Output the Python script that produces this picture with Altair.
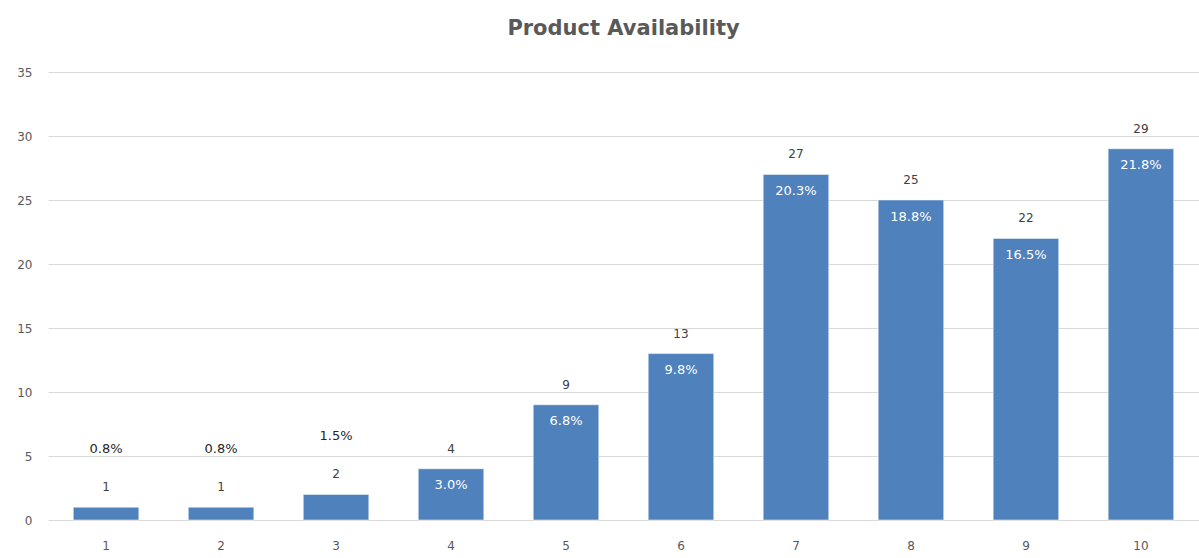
import altair as alt
import pandas as pd

ratings = ["1", "2", "3", "4", "5", "6", "7", "8", "9", "10"]
counts = [1, 1, 2, 4, 9, 13, 27, 25, 22, 29]
shares = ["0.8%", "0.8%", "1.5%", "3.0%", "6.8%", "9.8%", "20.3%", "18.8%", "16.5%", "21.8%"]

df = pd.DataFrame({"rating": ratings, "count": counts, "share": shares})

FONT = "DejaVu Sans"
TEXT_GREY = "#595959"

x = alt.X(
    "rating:N",
    sort=ratings,
    title=None,
    scale=alt.Scale(paddingInner=0.43, paddingOuter=0.22),
    axis=alt.Axis(labelAngle=0, ticks=False, domain=False, grid=False, labelPadding=20,
                  labelFont=FONT, labelFontSize=12, labelColor=TEXT_GREY),
)
y = alt.Y(
    "count:Q",
    title=None,
    scale=alt.Scale(domain=[0, 35]),
    axis=alt.Axis(values=[0, 5, 10, 15, 20, 25, 30, 35], ticks=False, domain=False,
                  gridColor="#d9d9d9", labelPadding=16,
                  labelFont=FONT, labelFontSize=12, labelColor=TEXT_GREY),
)

base = alt.Chart(df).encode(x=x)

bars = base.mark_bar(color="#4f81bd", stroke="#ffffff", strokeWidth=0.5).encode(y=y)

count_labels = base.mark_text(
    dy=-20, baseline="middle", font=FONT, fontSize=12, color="#404040"
).encode(y="count:Q", text="count:Q")

# shares sit inside tall bars, above the count on short ones
share_inside = base.transform_filter("datum.count >= 4").transform_calculate(
    ypos="datum.count - 1.3"
).mark_text(baseline="middle", font=FONT, fontSize=13, color="#ffffff").encode(
    y="ypos:Q", text="share:N"
)
share_above = base.transform_filter("datum.count < 4").mark_text(
    dy=-58, baseline="middle", font=FONT, fontSize=13, color="#262626"
).encode(y="count:Q", text="share:N")

chart = (
    alt.layer(bars, count_labels, share_inside, share_above)
    .properties(
        width=1151,
        height=448,
        background="#ffffff",
        autosize=alt.AutoSizeParams(type="none"),
        padding={"left": 48, "top": 72, "right": 0, "bottom": 38},
        title=alt.TitleParams(
            "Product Availability", font=FONT, fontSize=21, fontWeight="bold",
            color=TEXT_GREY, offset=27, anchor="middle",
        ),
    )
    .configure_view(stroke=None)
    .configure_axisX(grid=False)
)

chart.save("out.html", embed_options={"renderer": "svg", "actions": False})
